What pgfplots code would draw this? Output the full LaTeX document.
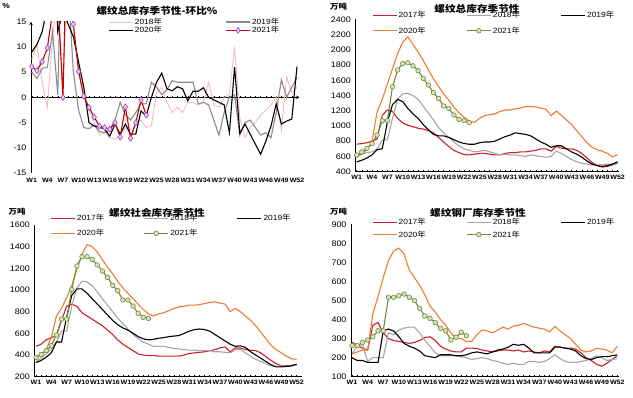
\documentclass[border=0pt]{standalone}
\usepackage{fontspec}
\setmainfont{Liberation Sans}[FakeStretch=1.12]
\newfontfamily\cjk{Noto Sans CJK SC}[FakeStretch=1.12]
\usepackage{pgfplots}
\pgfplotsset{compat=1.18}
\usepackage{pgfplotstable}

\definecolor{c17}{RGB}{204,32,39}
\definecolor{c18}{RGB}{165,165,165}
\definecolor{c20}{RGB}{237,125,49}
\definecolor{c21}{RGB}{112,138,58}
\definecolor{c21f}{RGB}{215,228,188}
\definecolor{p18}{RGB}{242,190,190}
\definecolor{p19}{RGB}{140,140,140}
\definecolor{p21}{RGB}{200,0,0}
\definecolor{p21m}{RGB}{160,70,190}
\definecolor{p21f}{RGB}{228,200,242}
\newcommand\nian{{\cjk 年}}

% week-over-week change, %
\pgfplotstableread{
w p18 p19 p20 p21
1 7.5 5 9 6.1
2 10.5 3.7 10.5 5.3
3 3 5.7 13 7.1
4 -2 6 18 9.8
5 12 13 45 17
6 20 0.5 13 20
7 2 45 17 0
8 30 22 14.5 43
9 14 5 12 14.5
10 6 -2.5 7 5.1
11 0.5 -6 2 0.2
12 -2.5 -6.2 -5 -2
13 -5 -5.5 -5.7 -3.9
14 -7.5 -6.8 -5.9 -5.7
15 -7 -7 -6.3 -6
16 -8 -6.5 -7.7 -6.3
17 -8.3 -4.5 -5.3 -5
18 -7.5 -1 -7.3 -7.9
19 -6 -3.5 -5.3 -1.9
20 -7.5 -4.5 -7.3 -8.1
21 -5 -3 -7.3 -5
22 -4.5 -1.3 -2.7 -0.5
23 -6 -1.3 -3.7 -3.5
24 -5.5 3 0 nan
25 1 2 3 nan
26 2 0.5 4.8 nan
27 -1 1.5 1.7 nan
28 -3 3.3 1.3 nan
29 -2 3 2.1 nan
30 -3 3 1.7 nan
31 -1 3 -0.7 nan
32 -1 3 1.2 nan
33 -1.5 -1.3 1.2 nan
34 -1 -1 1.9 nan
35 3 -1.5 0 nan
36 -1.5 -4.5 -0.5 nan
37 -2 -7.5 -1 nan
38 0 -3 -1.5 nan
39 0.5 0 -7 nan
40 10 0.5 6 nan
41 -4 -7.5 -7.1 nan
42 -8 -5 -5.3 nan
43 -6 -4.5 -7.3 nan
44 -5 -6 -9.3 nan
45 -3.5 -7.5 -11.3 nan
46 -2.5 -7 -8.7 nan
47 -1.5 -8 -5.7 nan
48 0 -3 -1.3 nan
49 -6.5 3.5 -5.3 nan
50 4 0 -4.7 nan
51 1 2 -4.3 nan
52 2 4 6.1 nan
}\tpct

% total inventory
\pgfplotstableread{
w y17 y18 y19 y20 y21
1 760 620 530 590 620
2 770 630 550 630 660
3 780 650 580 690 706
4 800 660 620 790 770
5 830 700 690 1190 880
6 1140 810 700 1350 1070
7 1210 820 1050 1550 1070
8 1190 1100 1280 1750 1515
9 1100 1350 1350 1950 1734
10 1040 1420 1320 2100 1820
11 1010 1430 1230 2170 1830
12 990 1400 1160 2070 1790
13 970 1350 1100 1970 1725
14 960 1260 1020 1860 1625
15 940 1170 950 1740 1537
16 910 1080 890 1620 1437
17 850 980 870 1520 1362
18 790 910 870 1420 1262
19 730 850 850 1340 1231
20 680 790 820 1250 1144
21 650 740 790 1170 1087
22 625 700 770 1115 1070
23 620 680 760 1065 1043
24 630 660 760 1045 nan
25 640 670 780 1100 nan
26 640 680 790 1135 nan
27 630 660 790 1150 nan
28 620 640 800 1160 nan
29 620 620 830 1190 nan
30 640 630 860 1210 nan
31 650 620 880 1210 nan
32 650 620 910 1225 nan
33 660 610 900 1235 nan
34 660 600 890 1255 nan
35 670 620 870 1255 nan
36 680 610 830 1250 nan
37 700 600 790 1235 nan
38 700 590 760 1220 nan
39 670 600 720 1135 nan
40 730 670 740 1195 nan
41 710 640 740 1140 nan
42 700 600 700 1080 nan
43 700 560 660 1020 nan
44 680 530 630 940 nan
45 640 510 590 860 nan
46 580 500 540 780 nan
47 520 490 500 720 nan
48 480 490 480 690 nan
49 460 490 470 670 nan
50 470 500 480 640 nan
51 490 500 500 595 nan
52 510 510 530 625 nan
}\ttotal

% social inventory
\pgfplotstableread{
w y17 y18 y19 y20 y21
1 480 340 330 370 378
2 500 370 350 400 406
3 540 410 380 450 440
4 560 460 420 560 486
5 580 520 520 760 585
6 720 620 520 830 732
7 850 620 750 930 732
8 870 850 950 1040 1006
9 850 1020 1010 1190 1222
10 790 1080 1010 1330 1308
11 760 1075 970 1420 1308
12 730 1040 920 1400 1283
13 700 980 870 1350 1231
14 670 920 820 1280 1175
15 630 860 770 1210 1117
16 590 800 720 1150 1043
17 540 740 680 1080 994
18 500 690 650 1020 908
19 470 640 630 970 908
20 440 590 600 920 852
21 410 550 570 870 785
22 400 520 550 820 748
23 395 500 540 780 738
24 395 480 545 760 nan
25 390 480 555 780 nan
26 390 480 560 790 nan
27 390 470 570 810 nan
28 390 460 575 830 nan
29 390 455 580 845 nan
30 400 450 600 850 nan
31 415 445 620 860 nan
32 420 445 635 860 nan
33 425 440 640 865 nan
34 430 440 635 875 nan
35 440 440 620 885 nan
36 450 430 590 890 nan
37 465 430 560 880 nan
38 475 425 530 870 nan
39 430 420 500 800 nan
40 465 450 480 830 nan
41 465 450 485 800 nan
42 450 420 470 760 nan
43 445 390 430 720 nan
44 440 360 400 670 nan
45 420 340 370 610 nan
46 385 320 340 550 nan
47 350 300 310 490 nan
48 320 295 290 450 nan
49 300 295 290 420 nan
50 300 295 295 390 nan
51 305 300 300 365 nan
52 310 310 315 360 nan
}\tsocial

% steel mill inventory
\pgfplotstableread{
w y17 y18 y19 y20 y21
1 280 220 200 220 263
2 265 260 185 230 263
3 250 270 185 240 279
4 240 180 175 240 293
5 370 200 175 430 310
6 385 200 175 520 341
7 330 200 340 620 341
8 300 330 350 710 517
9 290 320 340 760 517
10 285 345 310 775 525
11 280 355 275 745 534
12 275 360 260 660 517
13 280 360 250 620 499
14 290 330 235 580 459
15 305 290 210 530 419
16 310 260 205 470 406
17 290 225 200 440 384
18 260 210 215 400 354
19 245 210 215 370 341
20 235 210 215 330 293
21 230 210 210 300 307
22 230 205 210 300 333
23 250 200 215 285 315
24 250 190 225 285 nan
25 248 195 230 320 nan
26 240 200 225 345 nan
27 235 195 220 340 nan
28 230 185 230 330 nan
29 235 180 240 345 nan
30 240 170 245 360 nan
31 240 165 255 350 nan
32 235 170 270 365 nan
33 240 165 265 370 nan
34 230 165 270 380 nan
35 235 180 250 370 nan
36 230 180 225 360 nan
37 225 175 225 355 nan
38 235 180 225 350 nan
39 230 195 225 335 nan
40 260 215 255 365 nan
41 255 195 255 340 nan
42 250 180 250 320 nan
43 250 175 245 300 nan
44 245 175 235 270 nan
45 225 180 210 240 nan
46 200 185 195 230 nan
47 185 195 190 235 nan
48 165 210 200 250 nan
49 155 200 205 245 nan
50 170 185 205 240 nan
51 190 190 210 225 nan
52 210 195 215 260 nan
}\tmill

\pgfplotsset{
  panel/.style={
    scale only axis,
    axis lines=left,
    axis line style={-, black, line width=0.6pt},
    x axis line style={-}, y axis line style={-},
    xtick={1,4,...,52},
    minor xtick={1,...,52},
    xticklabel={W\pgfmathprintnumber{\tick}},
    xtick align=inside,
    major tick length=2pt,
    minor tick length=2pt,
    tick style={black, line width=0.5pt},
    ytick style={draw=none},
    xticklabel style={font=\bfseries\fontsize{6.3}{7}\selectfont, inner sep=1pt, yshift=-2pt},
    yticklabel style={font=\fontsize{8}{9}\selectfont},
    /pgf/number format/assume math mode=true,
    /pgf/number format/1000 sep={},
    legend style={draw=none, fill=none, font=\fontsize{7.5}{8}\selectfont,
      anchor=north west, inner sep=0pt, nodes={inner sep=1.5pt}},
    legend cell align=left,
    legend image code/.code={\draw[mark repeat=2,mark phase=2,##1] plot coordinates {(0pt,0pt) (12pt,0pt) (24pt,0pt)};},
  },
  s17/.style={c17, line width=1.1pt, mark=none},
  s18/.style={c18, line width=1.1pt, mark=none},
  s19/.style={black, line width=1.1pt, mark=none},
  s20/.style={c20, line width=1.1pt, mark=none},
  s21/.style={c21, line width=1.1pt, mark=*, mark size=2.3pt, mark options={fill=c21f, draw=c21, line width=0.6pt}},
}

\begin{document}
\begin{tikzpicture}
\path[use as bounding box] (0pt,0pt) rectangle (633pt,-398pt);

% ---------- Panel 1 ----------
\begin{axis}[panel,
  axis x line=middle, axis y line=left,
  width=268.6pt, height=151.3pt,
  at={(31pt,-173pt)}, anchor=south west,
  xmin=0.85, xmax=52.5, ymin=-15, ymax=15,
  ytick={-15,-10,...,15},
  xticklabel style={yshift=-77pt},
  legend columns=2,
  legend style={at={(axis description cs:0.287,1.035)},
    /tikz/every even column/.append style={column sep=62pt}, row sep=-2.5pt},
]
\addplot[p18, line width=0.9pt] table[x=w,y=p18]{\tpct};
\addplot[p19, line width=1.1pt] table[x=w,y=p19]{\tpct};
\addplot[black, line width=1.1pt] table[x=w,y=p20]{\tpct};
\addplot[p21, line width=1.1pt, mark=diamond*, mark size=3pt, mark options={fill=p21f, draw=p21m, line width=0.6pt}] table[x=w,y=p21]{\tpct};
\legend{2018\nian,2019\nian,2020\nian,2021\nian}
\end{axis}

% ---------- Panel 2 ----------
\begin{axis}[panel,
  width=263.6pt, height=152.4pt,
  at={(355.3pt,-171.7pt)}, anchor=south west,
  xmin=0.73, xmax=52.25, ymin=400, ymax=2400,
  ytick={400,600,...,2400},
  clip mode=individual,
  legend columns=3,
  legend style={at={(axis description cs:0.063,1.062)},
    /tikz/every even column/.append style={column sep=39pt}, row sep=4.5pt},
]
\addplot[s17] table[x=w,y=y17]{\ttotal};
\addplot[s18] table[x=w,y=y18]{\ttotal};
\addplot[s19] table[x=w,y=y19]{\ttotal};
\addplot[s20] table[x=w,y=y20]{\ttotal};
\addplot[s21] table[x=w,y=y21]{\ttotal};
\legend{2017\nian,2018\nian,2019\nian,2020\nian,2021\nian}
\end{axis}

% ---------- Panel 3 ----------
\begin{axis}[panel,
  width=267.3pt, height=151.7pt,
  at={(34.3pt,-376.7pt)}, anchor=south west,
  xmin=0.67, xmax=52.98, ymin=200, ymax=1600,
  ytick={200,400,...,1600},
  clip mode=individual,
  legend columns=3,
  legend style={at={(axis description cs:0.06,1.08)},
    /tikz/every even column/.append style={column sep=38pt}, row sep=4pt},
]
\addplot[s17] table[x=w,y=y17]{\tsocial};
\addplot[s18] table[x=w,y=y18]{\tsocial};
\addplot[s19] table[x=w,y=y19]{\tsocial};
\addplot[s20] table[x=w,y=y20]{\tsocial};
\addplot[s21] table[x=w,y=y21]{\tsocial};
\legend{2017\nian,2018\nian,2019\nian,2020\nian,2021\nian}
\end{axis}

% ---------- Panel 4 ----------
\begin{axis}[panel,
  width=268pt, height=152.4pt,
  at={(351pt,-376.7pt)}, anchor=south west,
  xmin=0.8, xmax=52.33, ymin=100, ymax=900,
  ytick={100,200,...,900},
  clip mode=individual,
  legend columns=3,
  legend style={at={(axis description cs:0.078,1.05)},
    /tikz/every even column/.append style={column sep=39pt}, row sep=1.5pt},
]
\addplot[s17] table[x=w,y=y17]{\tmill};
\addplot[s18] table[x=w,y=y18]{\tmill};
\addplot[s19] table[x=w,y=y19]{\tmill};
\addplot[s20] table[x=w,y=y20]{\tmill};
\addplot[s21] table[x=w,y=y21]{\tmill};
\legend{2017\nian,2018\nian,2019\nian,2020\nian,2021\nian}
\end{axis}

% ---------- titles and units ----------
\node[font=\cjk\bfseries\fontsize{9.5}{10}\selectfont] at (157pt,-10.5pt) {螺纹总库存季节性-环比\%};
\node[font=\bfseries\fontsize{7.5}{8}\selectfont] at (6pt,-6pt) {\%};
\node[font=\cjk\bfseries\fontsize{9.5}{10}\selectfont] at (477pt,-8.5pt) {螺纹总库存季节性};
\node[font=\cjk\bfseries\fontsize{7.5}{8}\selectfont] at (338.5pt,-7pt) {万吨};
\node[font=\cjk\bfseries\fontsize{9.5}{10}\selectfont] at (157pt,-213pt) {螺纹社会库存季节性};
\node[font=\cjk\bfseries\fontsize{7.5}{8}\selectfont] at (17pt,-211.5pt) {万吨};
\node[font=\cjk\bfseries\fontsize{9.5}{10}\selectfont] at (478pt,-213pt) {螺纹钢厂库存季节性};
\node[font=\cjk\bfseries\fontsize{7.5}{8}\selectfont] at (338.5pt,-211.5pt) {万吨};
\end{tikzpicture}
\end{document}
